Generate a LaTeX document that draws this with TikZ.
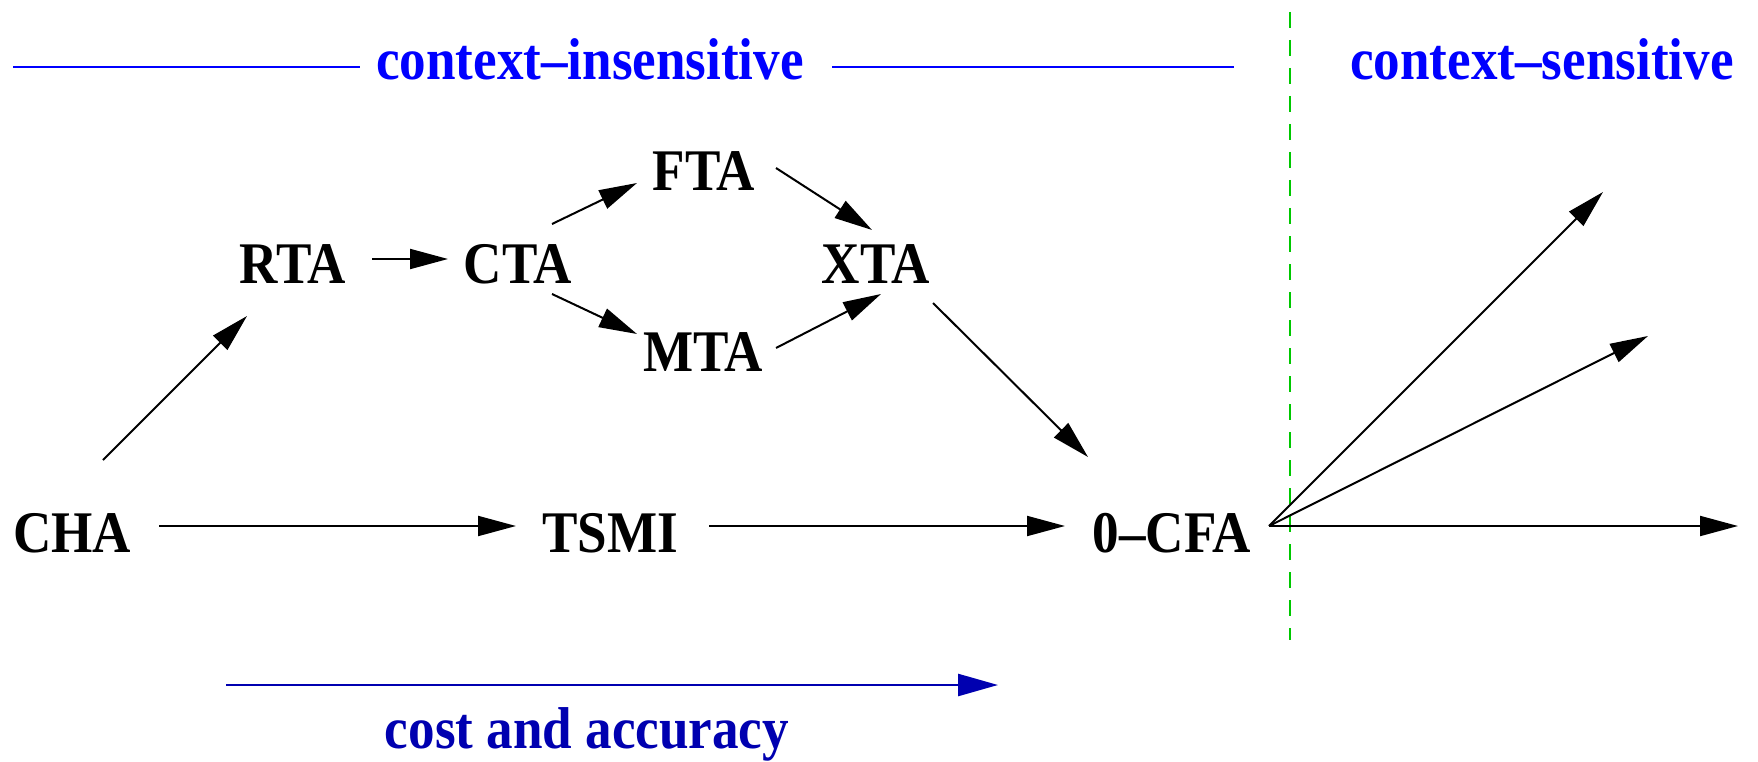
\documentclass[tikz,border=0pt]{standalone}
\usepackage{fontspec}
\setmainfont{Liberation Serif}[FakeStretch=0.9]
\usetikzlibrary{arrows.meta,calc}
\definecolor{topblue}{RGB}{0,0,255}
\definecolor{botblue}{RGB}{0,0,176}
\definecolor{dashgreen}{RGB}{0,200,0}
\begin{document}
\begin{tikzpicture}[x=1pt,y=-1pt,
  lbl/.style={anchor=base,inner sep=0pt,font=\fontsize{59}{60}\selectfont\bfseries},
  conn/.style={line width=2pt,-{Triangle[length=38pt,width=20pt]}},
  blueline/.style={line width=2.5pt,topblue},
]
\useasboundingbox (0,0) rectangle (1758,762);
% nodes
\node[lbl] (CHA) at (72,552) {CHA};
\node[lbl] (TSMI) at (610,552) {TSMI};
\node[lbl] (CFA) at (1172,552) {0--CFA};
\node[lbl] (RTA) at (293,283) {RTA};
\node[lbl] (CTA) at (518,283) {CTA};
\node[lbl] (FTA) at (704,191) {FTA};
\node[lbl] (XTA) at (876,283) {XTA};
\node[lbl] (MTA) at (703,371) {MTA};
\node[lbl,topblue] (ci) at (590,80) {context--insensitive};
\node[lbl,topblue] (cs) at (1542,80) {context--sensitive};
\node[lbl,botblue] (ca) at (587,748) {cost and accuracy};
% top lines
\coordinate (tl1) at (13,67);
\coordinate (tl2) at (360,67);
\coordinate (tr1) at (832,67);
\coordinate (tr2) at (1234,67);
\draw[blueline] (tl1) -- (tl2);
\draw[blueline] (tr1) -- (tr2);
% divider
\coordinate (dtop) at (1290,12);
\coordinate (dbot) at (1290,640);
\draw[dashgreen,line width=1.5pt,dash pattern=on 16pt off 12pt] (dtop) -- (dbot);
% bottom arrow
\coordinate (ba1) at (226,685);
\coordinate (ba2) at (998,685);
\draw[line width=2.5pt,botblue,-{Triangle[length=40pt,width=22pt]}] (ba1) -- (ba2);
% connectors
\draw[conn] ($(CHA.base)+(31,-92)$) -- ($(RTA.base)+(-46,33)$);
\draw[conn] ($(RTA.base)+(79,-24)$) -- ($(CTA.base)+(-70,-24)$);
\draw[conn] ($(CTA.base)+(34,-59)$) -- ($(FTA.base)+(-67,-8)$);
\draw[conn] ($(CTA.base)+(34,11)$) -- ($(MTA.base)+(-66,-37)$);
\draw[conn] ($(FTA.base)+(72,-23)$) -- ($(XTA.base)+(-4,-53)$);
\draw[conn] ($(MTA.base)+(73,-23)$) -- ($(XTA.base)+(5,11)$);
\draw[conn] ($(XTA.base)+(57,20)$) -- ($(CFA.base)+(-84,-95)$);
\draw[conn] ($(CHA.base)+(87,-26)$) -- ($(TSMI.base)+(-94,-26)$);
\draw[conn] ($(TSMI.base)+(99,-26)$) -- ($(CFA.base)+(-107,-26)$);
\coordinate (o1) at (1603,192);
\coordinate (o2) at (1648,336);
\coordinate (o3) at (1738,526);
\coordinate (os) at ($(CFA.base)+(97,-26)$);
\draw[conn] (os) -- (o1);
\draw[conn] (os) -- (o2);
\draw[conn] (os) -- (o3);
\end{tikzpicture}
\end{document}
